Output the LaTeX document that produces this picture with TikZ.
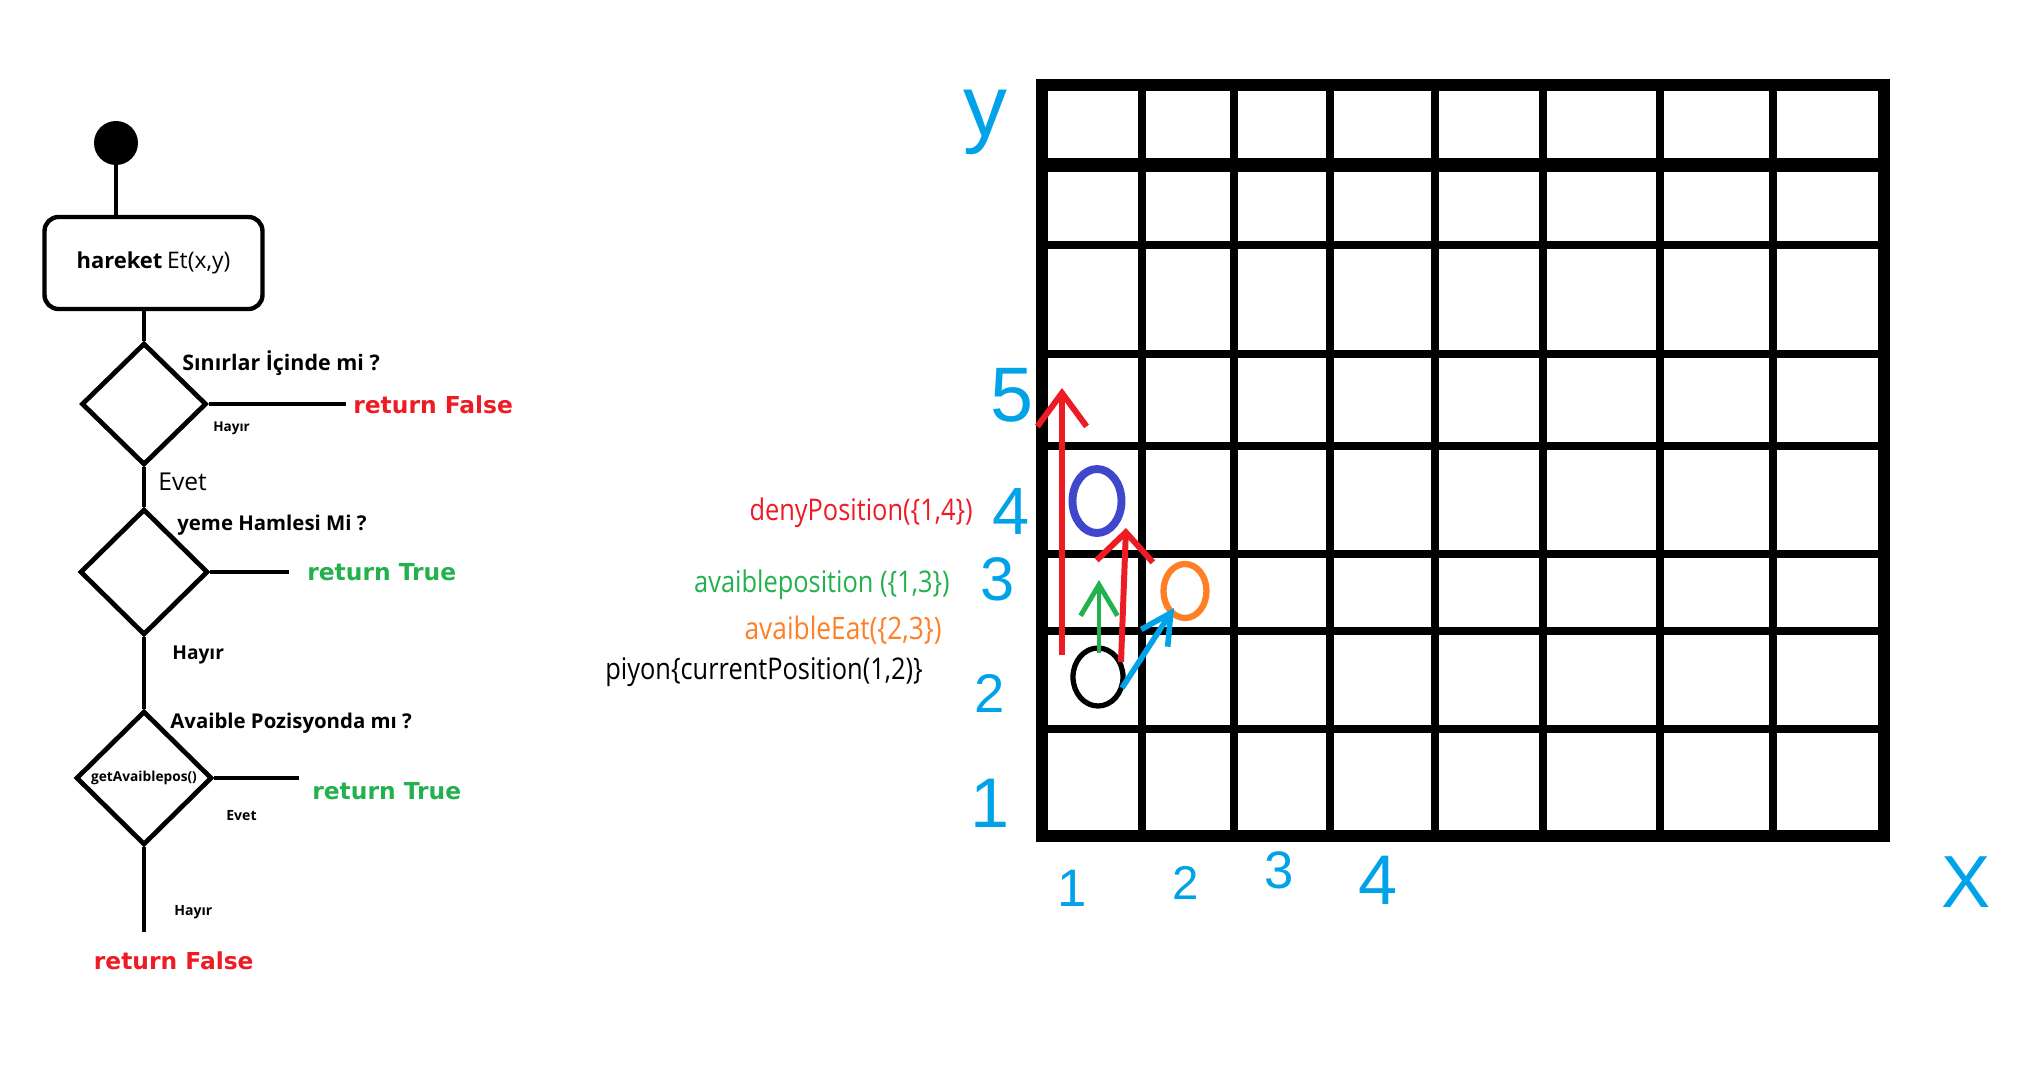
\documentclass[tikz,border=0pt]{standalone}
\usepackage{fontspec}
\setmainfont{Open Sans}
\newfontfamily\retfont{DejaVu Sans}
\newfontfamily\handfont{Liberation Sans}
\newfontfamily\codefont[FakeStretch=0.85]{Open Sans}
\usetikzlibrary{shapes.geometric,arrows.meta,positioning}
\definecolor{paintred}{RGB}{237,28,36}
\definecolor{paintgreen}{RGB}{34,177,76}
\definecolor{paintorange}{RGB}{255,127,39}
\definecolor{paintblue}{RGB}{0,162,232}
\definecolor{paintindigo}{RGB}{63,72,204}
\newcommand{\setfs}[1]{\fontsize{#1}{#1}\selectfont}

\begin{document}
\begin{tikzpicture}[x=0.02cm, y=-0.02cm,
    flowline/.style={line width=2.5pt},
    startdot/.style={circle, fill=black, minimum size=0.88cm, inner sep=0},
    actbox/.style={draw, line width=2.5pt, rounded corners=0.28cm, minimum width=4.36cm, minimum height=1.84cm},
    decision/.style={diamond, draw, line width=2.7pt, inner sep=0},
    flowtext/.style={anchor=west, inner sep=0, font=\bfseries\setfs{#1}},
    plaintext/.style={anchor=west, inner sep=0, font=\setfs{#1}},
    retfalse/.style={anchor=west, inner sep=0, text=paintred, font=\retfont\bfseries\setfs{13.3pt}},
    rettrue/.style={anchor=west, inner sep=0, text=paintgreen, font=\retfont\bfseries\setfs{13.3pt}},
    codetext/.style={anchor=base east, inner sep=0, font=\codefont\setfs{#1}},
    axlabel/.style={text=paintblue, inner sep=0, font=\handfont\setfs{#1}},
    gridline/.style={line width=5pt},
    piece/.style={ellipse, draw, inner sep=0}]

    \useasboundingbox (0,0) rectangle (2040,1088);

    % Flow chart
    \node[startdot] (start) at (116,143) {};
    \node[actbox] (move) at (153.5,263) {{\bfseries\setfs{12.5pt}hareket} {\setfs{13pt}Et(x,y)}};
    \draw[flowline] (start) -- (start |- move.north);

    \node[decision, minimum width=2.5cm, minimum height=2.44cm] (bounds) at (144,404) {};
    \draw[flowline] (move.south -| bounds.north) -- (bounds.north);
    \node[flowtext=12.2pt] (boundsq) at (182,363) {Sınırlar İçinde mi ?};
    \coordinate (boundsend) at (346,404);
    \draw[flowline] (bounds.east) -- (boundsend);
    \node[retfalse] (ret1) at (353,405) {return False};
    \node[flowtext=7.7pt] (no1) at (213,428) {Hayır};
    \node[plaintext=14pt] (yes1) at (158,482) {Evet};

    \node[decision, minimum width=2.56cm, minimum height=2.52cm] (eatmove) at (144,572) {};
    \draw[flowline] (bounds.south) -- (eatmove.north);
    \node[flowtext=11.6pt] (eatq) at (177,525) {yeme Hamlesi Mi ?};
    \coordinate (eatend) at (289,572);
    \draw[flowline] (eatmove.east) -- (eatend);
    \node[rettrue] (ret2) at (307,572) {return True};
    \node[flowtext=10.9pt] (no2) at (172,655) {Hayır};

    \node[decision, minimum width=2.72cm, minimum height=2.68cm] (avail) at (144,778) {\bfseries\setfs{7.8pt}getAvaiblepos()};
    \draw[flowline] (eatmove.south) -- (avail.north);
    \node[flowtext=11.6pt] (availq) at (170,723) {Avaible Pozisyonda mı ?};
    \coordinate (availend) at (299,778);
    \draw[flowline] (avail.east) -- (availend);
    \node[rettrue] (ret3) at (312,791) {return True};
    \node[flowtext=8pt] (yes3) at (226,816) {Evet};
    \coordinate (availdown) at (144,932);
    \draw[flowline] (avail.south) -- (availdown);
    \node[flowtext=8pt] (no3) at (174,912) {Hayır};
    \node[retfalse] (ret4) at (93.6,961) {return False};

    % Board
    \foreach \gx in {1142,1234,1330,1435,1543,1660,1773}
        \draw[gridline] (\gx,85) -- (\gx,836);
    \foreach \gy in {245,354,446,554,631,729}
        \draw[gridline] (1042,\gy) -- (1884,\gy);
    \draw[line width=8pt] (1042,165) -- (1884,165);
    \draw[line width=7pt] (1042,85) rectangle (1884,836);

    % Pieces
    \node[piece, line width=3pt, minimum width=1.0cm, minimum height=1.16cm] (pawn) at (1098,677) {};
    \node[piece, draw=paintindigo, line width=4.5pt, minimum width=0.98cm, minimum height=1.28cm] (blocked) at (1097,501) {};
    \node[piece, draw=paintorange, line width=3.6pt, minimum width=0.86cm, minimum height=1.08cm] (target) at (1185,591) {};

    % Moves
    \coordinate (longfrom) at (1062,655);
    \coordinate (longto) at (1062,388);
    \coordinate (shortfrom) at (1121,662);
    \coordinate (shortto) at (1126,528);
    \coordinate (stepfrom) at (1099,653);
    \coordinate (stepto) at (1099,580);
    \coordinate (eatfrom) at (1122,688);
    \coordinate (eatto) at (1174,608);
    \draw[paintred, line width=3.4pt, -{Straight Barb[length=19pt,width=28pt]}] (longfrom) -- (longto);
    \draw[paintred, line width=3.4pt, -{Straight Barb[length=16.5pt,width=32pt]}] (shortfrom) -- (shortto);
    \draw[paintgreen, line width=2.8pt, -{Straight Barb[length=17.6pt,width=21pt]}] (stepfrom) -- (stepto);
    \draw[paintblue, line width=3.2pt, -{Straight Barb[length=17pt,width=18pt]}] (eatfrom) -- (eatto);

    % Labels
    \node[codetext=17pt, text=paintred] (denylbl) at (973,520) {denyPosition(\{1,4\})};
    \node[codetext=17pt, text=paintgreen] (steplbl) at (950,592) {avaibleposition (\{1,3\})};
    \node[codetext=17.6pt, text=paintorange] (eatlbl) at (942,639) {avaibleEat(\{2,3\})};
    \node[codetext=17pt] (pawnlbl) at (923,679) {piyon\{currentPosition(1,2)\}};

    % Axes
    \node[axlabel=50pt] (ylbl) at (985,122) {y};
    \node[axlabel=44pt] (y5) at (1012,395) {5};
    \node[axlabel=38pt] (y4) at (1011,512) {4};
    \node[axlabel=35pt] (y3) at (998,579) {3};
    \node[axlabel=31pt] (y2) at (990,693) {2};
    \node[axlabel=40pt] (y1) at (990,803) {1};
    \node[axlabel=30pt] (x1) at (1072,888) {1};
    \node[axlabel=27pt] (x2) at (1186,883) {2};
    \node[axlabel=30pt] (x3) at (1279,870) {3};
    \node[axlabel=40pt] (x4) at (1378,880) {4};
    \node[axlabel=42pt] (xlbl) at (1966,882) {X};
\end{tikzpicture}
\end{document}
